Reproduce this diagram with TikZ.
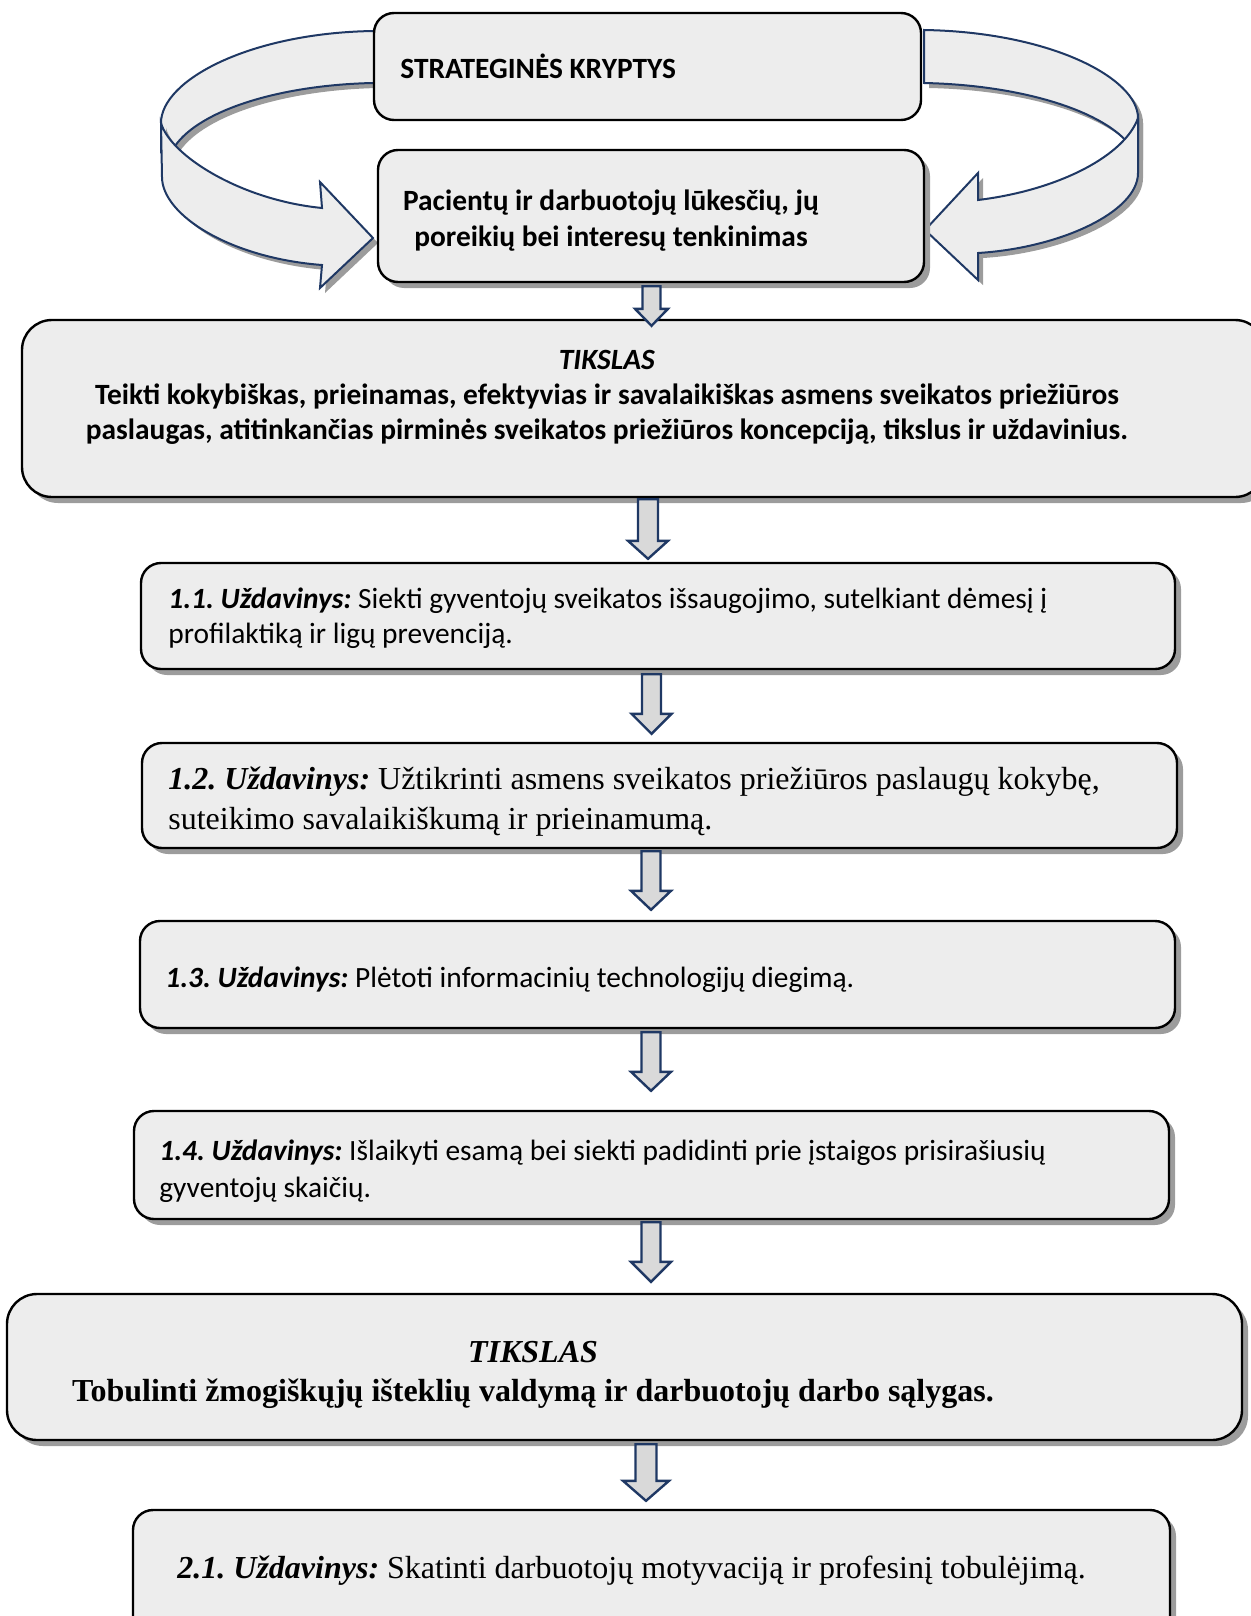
\documentclass[tikz,border=0pt]{standalone}
\usepackage{fontspec}
\setmainfont{Liberation Serif}
\newfontfamily\calib{Carlito}
\usetikzlibrary{shadows,fit,calc}
\frenchspacing
\definecolor{navy}{HTML}{1F3864}
\definecolor{boxfill}{HTML}{EDEDED}
\definecolor{arrfill}{HTML}{D9D9D9}
\definecolor{shade}{HTML}{9C9C9C}
\tikzset{
 box/.style={draw=black, line width=1.2pt, fill=boxfill, rounded corners=10pt, inner sep=0pt},
 shad/.style={drop shadow={shadow xshift=3pt, shadow yshift=-3pt, fill=shade, opacity=1}},
 bandshad/.style={drop shadow={shadow xshift=2.5pt, shadow yshift=-2.5pt, fill=shade, opacity=1}},
 band/.style={draw=navy, line width=1pt, fill=boxfill, line join=miter},
 varrow/.style={draw=navy, line width=1.2pt, fill=arrfill, line join=miter},
 sansb/.style={font=\calib\bfseries\fontsize{14.7}{17.5}\selectfont, inner sep=0pt},
 sansr/.style={font=\calib\fontsize{14.7}{17.5}\selectfont, inner sep=0pt},
 serifr/.style={font=\fontsize{16}{20}\selectfont, inner sep=0pt},
 serifb/.style={font=\bfseries\fontsize{16}{19.5}\selectfont, inner sep=0pt},
}
% block arrow between two named boxes: from, to, x centre, top offset, tip offset, shaft half, head half, head length (px)
\newcommand\blockarrow[8]{%
 \draw[varrow] let \p1=(#1.south), \p2=(#2.north),
   \n1={scalar(-2*\y1)-(#4)}, \n2={scalar(-2*\y2)+(#5)}, \n3={\n2-(#8)} in
   (#3-#6,\n1) -- (#3+#6,\n1) -- (#3+#6,\n3) -- (#3+#7,\n3) -- (#3,\n2)
   -- (#3-#7,\n3) -- (#3-#6,\n3) -- cycle;}
\begin{document}
\begin{tikzpicture}[x=0.5pt,y=-0.5pt]
\useasboundingbox (0,0) rectangle (1251,1616);
\clip (0,0) rectangle (1251,1616);

% left curved arrow: back band then front band
\path[band, bandshad] (375,31) -- (373,31) .. controls (250,33) and (161,80) .. (161,123)
  -- (161,152) -- (175,146) .. controls (200,110) and (280,85) .. (373,83) -- (375,83) -- cycle;
\path[band, bandshad] (161,123) -- (162,177) .. controls (162,215) and (230,258) .. (322,265)
  -- (320,288) -- (373,238) -- (320,182) -- (322,208)
  .. controls (240,200) and (170,155) .. (161,123) -- cycle;

% right curved arrow
\path[band, bandshad] (924,30) .. controls (1050,32) and (1138,78) .. (1138,118)
  -- (1138,155) -- (1128,143) .. controls (1100,110) and (1020,85) .. (924,83) -- cycle;
\path[band, bandshad] (1138,118) -- (1138,173) .. controls (1138,212) and (1060,248) .. (978,253)
  -- (978,280) -- (925,230) -- (978,173) -- (978,200)
  .. controls (1060,190) and (1125,155) .. (1138,118) -- cycle;

% boxes
\node[box, fit={(374,13) (921,120)}] (strat) {};
\node[box, shad, fit={(378,150) (924,282)}] (pac) {};
\node[box, shad, rounded corners=15pt, fit={(22,320) (1265,497)}] (t1) {};
\node[box, shad, fit={(141,563) (1175,669)}] (u11) {};
\node[box, shad, fit={(142,743) (1177,848)}] (u12) {};
\node[box, shad, fit={(140,921) (1175,1028)}] (u13) {};
\node[box, shad, fit={(134,1111) (1169,1219)}] (u14) {};
\node[box, shad, rounded corners=15pt, fit={(7,1294) (1242,1440)}] (t2) {};
\node[box, shad, fit={(133,1510) (1170,1660)}] (u21) {};

% texts
\node[sansb, anchor=base west] (strat-t) at (400,79) {STRATEGINĖS KRYPTYS};
\node[sansb, align=center, font=\calib\bfseries\fontsize{14.7}{18}\selectfont] (pac-t) at (611,221)
  {Pacientų ir darbuotojų lūkesčių, jų\\poreikių bei interesų tenkinimas};
\node[sansb, align=center] (t1-t) at (607,397)
  {\textit{TIKSLAS}\\Teikti kokybiškas, prieinamas, efektyvias ir savalaikiškas asmens sveikatos priežiūros\\paslaugas, atitinkančias pirminės sveikatos priežiūros koncepciją, tikslus ir uždavinius.};
\node[sansr, align=left, anchor=west] (u11-t) at (168,618)
  {\textbf{\textit{1.1. Uždavinys:}} Siekti gyventojų sveikatos išsaugojimo, sutelkiant dėmesį į\\profilaktiką ir ligų prevenciją.};
\node[serifr, align=left, anchor=west] (u12-t) at (168,802)
  {\textbf{\textit{1.2. Uždavinys:}} Užtikrinti asmens sveikatos priežiūros paslaugų kokybę,\\suteikimo savalaikiškumą ir prieinamumą.};
\node[sansr, anchor=west] (u13-t) at (165,980)
  {\textbf{\textit{1.3. Uždavinys:}} Plėtoti informacinių technologijų diegimą.};
\node[sansr, align=left, anchor=west, font=\calib\fontsize{14.7}{18.5}\selectfont] (u14-t) at (159,1171)
  {\textbf{\textit{1.4. Uždavinys:}} Išlaikyti esamą bei siekti padidinti prie įstaigos prisirašiusių\\gyventojų skaičių.};
\node[serifb, align=center] (t2-t) at (533,1375)
  {\textit{TIKSLAS}\\Tobulinti žmogiškųjų išteklių valdymą ir darbuotojų darbo sąlygas.};
\node[serifr, anchor=west] (u21-t) at (177,1571)
  {\textbf{\textit{2.1. Uždavinys:}} Skatinti darbuotojų motyvaciją ir profesinį tobulėjimą.};

% block arrows
\blockarrow{pac}{t1}{651.5}{-3}{7}{9}{16.5}{17}
\blockarrow{t1}{u11}{648}{-1}{-3}{10}{20}{18}
\blockarrow{u11}{u12}{651.5}{-4}{-8}{9.5}{20}{20}
\blockarrow{u12}{u13}{651}{-2}{-10}{9.5}{20}{19}
\blockarrow{u13}{u14}{651}{-3}{-19}{9.5}{20}{19}
\blockarrow{u14}{t2}{651}{-2}{-11}{9.5}{20}{20}
\blockarrow{t2}{u21}{646}{-3}{-8}{10.5}{23}{20}
\end{tikzpicture}
\end{document}
